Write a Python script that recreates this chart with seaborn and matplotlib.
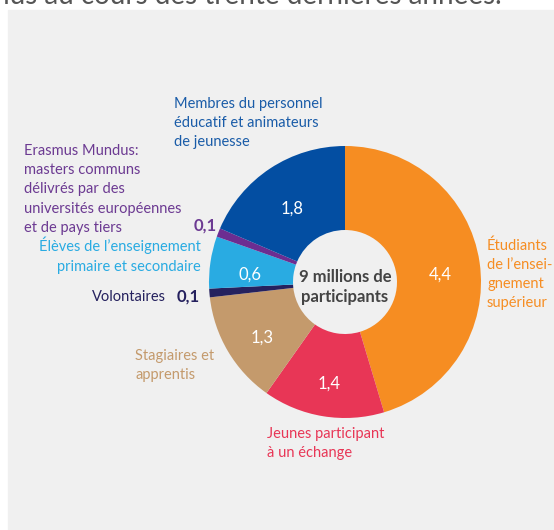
import matplotlib.pyplot as plt
import numpy as np
import seaborn as sns
from matplotlib.patches import Rectangle

# data (millions of participants), clockwise from 12 o'clock
categories = [
    "Étudiants\nde l’ensei-\ngnement\nsupérieur",
    "Jeunes participant\nà un échange",
    "Stagiaires et\napprentis",
    "Volontaires",
    "Élèves de l’enseignement\nprimaire et secondaire",
    "Erasmus Mundus:\nmasters communs\ndélivrés par des\nuniversités européennes\net de pays tiers",
    "Membres du personnel\néducatif et animateurs\nde jeunesse",
]
values = [4.4, 1.4, 1.3, 0.1, 0.6, 0.1, 1.8]
value_labels = ["4,4", "1,4", "1,3", "0,1", "0,6", "0,1", "1,8"]
colors = ["#f68d22", "#e83656", "#c49a6c", "#25215e", "#29abe2", "#6c2d91", "#034ea2"]
text_colors = ["#f68d22", "#e83656", "#c49a6c", "#25215e", "#29abe2", "#6c3a92", "#1a5ca8"]
center_text = "9 millions de\nparticipants"

W, H = 554, 530
sns.set_theme(style="white")
plt.rcParams["font.family"] = ["Lato", "DejaVu Sans"]

fig = plt.figure(figsize=(W / 100, H / 100), dpi=100)
fig.patch.set_facecolor("white")
fig.patches.append(Rectangle((8 / W, 0), 1 - 8 / W, (H - 10) / H,
                             transform=fig.transFigure, color="#f0f0f0", zorder=-5))
fig.text(502 / W, 1 - 4 / H, "nus au cours des trente dernières années.",
         ha="right", va="baseline", fontsize=20, color="#555555")

ax = fig.add_axes([0, 0, 1, 1])
ax.set_facecolor("none")
ax.set_zorder(1)

cx, cy, R, r_in = 345, H - 282, 136, 52
wedges, _ = ax.pie(values, colors=colors, startangle=90, counterclock=False,
                   radius=R, center=(cx, cy), frame=True,
                   wedgeprops=dict(width=R - r_in, edgecolor="none"))
ax.set_xlim(0, W)
ax.set_ylim(0, H)
ax.set_aspect("equal")
ax.axis("off")

# values inside the ring
for w, lab in zip(wedges, value_labels):
    if lab == "0,1":
        continue
    ang = np.deg2rad((w.theta1 + w.theta2) / 2)
    rr = 96
    ax.text(cx + rr * np.cos(ang), cy + rr * np.sin(ang) - 7, lab, ha="center", va="center",
            color="white", fontsize=12)

ax.text(cx, cy - 5, center_text, ha="center", va="center", fontsize=12,
        fontweight="bold", color="#444444", linespacing=1.25)


def px(x, y):
    return x, H - y


fs = 10.5
ls = 1.47
ax.text(*px(487, 238), categories[0], ha="left", va="top", fontsize=fs, color=text_colors[0], linespacing=ls)
ax.text(*px(267, 427), categories[1], ha="left", va="top", fontsize=fs, color=text_colors[1], linespacing=ls)
ax.text(*px(135, 349), categories[2], ha="left", va="top", fontsize=fs, color=text_colors[2], linespacing=ls)
ax.text(*px(166, 297), categories[3], ha="right", va="center", fontsize=fs, color=text_colors[3])
ax.text(*px(200, 297), value_labels[3], ha="right", va="center", fontsize=12,
        fontweight="bold", color=text_colors[3])
ax.text(*px(201, 237), categories[4], ha="right", va="top", fontsize=fs, color=text_colors[4],
        linespacing=ls, multialignment="right")
ax.text(*px(24, 144), categories[5], ha="left", va="top", fontsize=fs, color=text_colors[5], linespacing=ls)
ax.text(*px(217, 226), value_labels[5], ha="right", va="center", fontsize=12,
        fontweight="bold", color=text_colors[5])
ax.text(*px(174, 97), categories[6], ha="left", va="top", fontsize=fs, color=text_colors[6], linespacing=ls)

fig.savefig("out.png", dpi=100, facecolor="white")
